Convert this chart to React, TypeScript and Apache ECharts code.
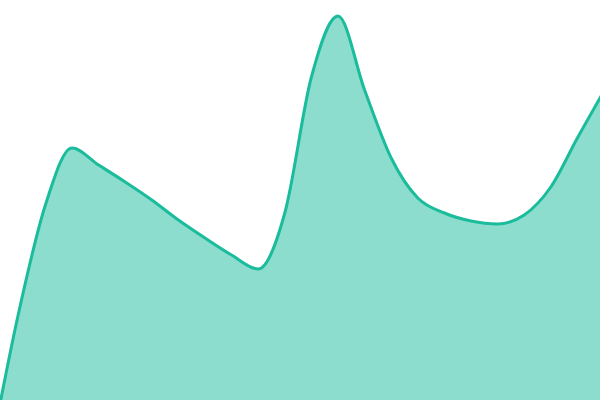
import React, { useEffect, useRef } from "react";
import * as echarts from "echarts";

const categories = [
  "1", "2", "3", "4", "5", "6", "7", "8", "9", "10", "11", "12",
  "13", "14", "15", "16", "17", "18", "19", "20", "21", "22", "23", "24",
];
const values = [
  -44, 88, 195, 252, 235, 218, 200, 180, 162, 145, 131, 187,
  323, 384, 310, 242, 202, 187, 179, 176, 185, 213, 262, 309,
];

function monotoneSegments(pts: number[][]): string {
  const n = pts.length;
  const sl: number[] = [];
  for (let i = 0; i < n - 1; i++) {
    sl.push((pts[i + 1][1] - pts[i][1]) / (pts[i + 1][0] - pts[i][0]));
  }
  const sign = (v: number) => (v < 0 ? -1 : 1);
  const t: number[] = new Array(n).fill(0);
  for (let i = 1; i < n - 1; i++) {
    const h0 = pts[i][0] - pts[i - 1][0];
    const h1 = pts[i + 1][0] - pts[i][0];
    const s0 = sl[i - 1];
    const s1 = sl[i];
    const p = (s0 * h1 + s1 * h0) / (h0 + h1);
    t[i] =
      (sign(s0) + sign(s1)) *
        Math.min(Math.abs(s0), Math.abs(s1), 0.5 * Math.abs(p)) || 0;
  }
  t[0] = (3 * sl[0] - t[1]) / 2;
  t[n - 1] = (3 * sl[n - 2] - t[n - 2]) / 2;
  let d = "";
  for (let i = 0; i < n - 1; i++) {
    const [x0, y0] = pts[i];
    const [x1, y1] = pts[i + 1];
    const dx = (x1 - x0) / 3;
    d += ` C ${x0 + dx} ${y0 + dx * t[i]} ${x1 - dx} ${y1 - dx * t[i + 1]} ${x1} ${y1}`;
  }
  return d;
}

export default function App() {
  const ref = useRef<HTMLDivElement>(null);
  useEffect(() => {
    const chart = echarts.init(ref.current!, undefined, { renderer: "svg" });
    const data = values.map((v, i) => [i, v]);
    chart.setOption({
      animation: false,
      grid: { left: 0, right: 0, top: 0, bottom: 0 },
      xAxis: { type: "value", min: 0.293, max: 22.85, show: false },
      yAxis: { type: "value", min: 0, max: 400, show: false },
      series: [
        {
          type: "custom",
          name: categories.join(","),
          data,
          clip: true,
          renderItem: (params: any, api: any) => {
            if (params.dataIndex !== 5) return null;
            const pts = values.map((v, i) => api.coord([i, v]));
            const base = api.coord([0, 0])[1];
            const segs = monotoneSegments(pts);
            const first = pts[0];
            const last = pts[pts.length - 1];
            const lineD = `M ${first[0]} ${first[1]}` + segs;
            const fillD =
              `M ${first[0]} ${base} L ${first[0]} ${first[1]}` +
              segs +
              ` L ${last[0]} ${base} Z`;
            return {
              type: "group",
              children: [
                {
                  type: "path",
                  shape: { pathData: fillD },
                  style: { fill: "rgba(26,188,156,0.5)", stroke: "none" },
                },
                {
                  type: "path",
                  shape: { pathData: lineD },
                  style: {
                    fill: "none",
                    stroke: "#1abc9c",
                    lineWidth: 3,
                    lineJoin: "round",
                  },
                },
              ],
            };
          },
        },
      ],
    });
    return () => chart.dispose();
  }, []);
  return (
    <div
      ref={ref}
      style={{ position: "fixed", left: 0, top: 0, width: 600, height: 400 }}
    />
  );
}
